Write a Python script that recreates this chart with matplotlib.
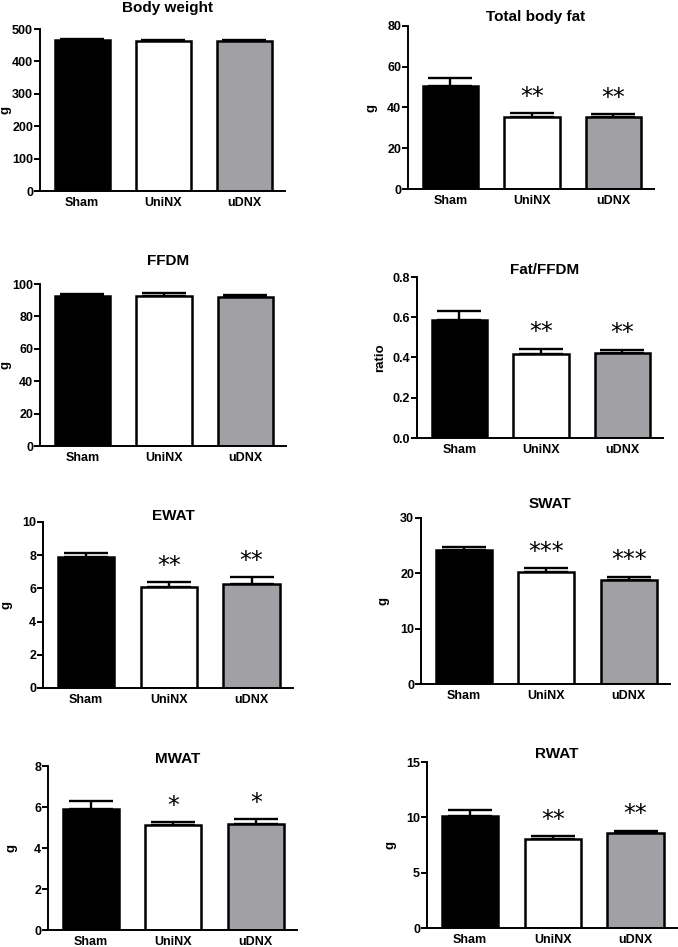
import matplotlib
matplotlib.use("Agg")
import matplotlib.pyplot as plt
import numpy as np

plt.rcParams['font.family'] = ['Liberation Sans', 'DejaVu Sans']
plt.rcParams['font.weight'] = 'bold'

groups = ['Sham', 'UniNX', 'uDNX']
bar_colors = ['black', 'white', '#a1a1a5']

titles = ['Body weight', 'Total body fat', 'FFDM', 'Fat/FFDM',
          'EWAT', 'SWAT', 'MWAT', 'RWAT']
ylabels = ['g', 'g', 'g', 'ratio', 'g', 'g', 'g', 'g']

# means and SEM (upper)
means = [
    [465, 462, 462],
    [50.6, 35.2, 35.4],
    [92.8, 92.8, 91.8],
    [0.584, 0.416, 0.422],
    [7.87, 6.08, 6.29],
    [24.3, 20.3, 18.8],
    [5.89, 5.11, 5.18],
    [10.15, 8.04, 8.61],
]
sems = [
    [4, 4, 4],
    [3.7, 2.2, 1.3],
    [1.2, 1.6, 1.4],
    [0.048, 0.028, 0.017],
    [0.26, 0.31, 0.40],
    [0.5, 0.6, 0.6],
    [0.42, 0.17, 0.23],
    [0.51, 0.30, 0.19],
]
stars = [
    ['', '', ''],
    ['', '**', '**'],
    ['', '', ''],
    ['', '**', '**'],
    ['', '**', '**'],
    ['', '***', '***'],
    ['', '*', '*'],
    ['', '**', '**'],
]
yticks = [
    [0, 100, 200, 300, 400, 500],
    [0, 20, 40, 60, 80],
    [0, 20, 40, 60, 80, 100],
    [0.0, 0.2, 0.4, 0.6, 0.8],
    [0, 2, 4, 6, 8, 10],
    [0, 10, 20, 30],
    [0, 2, 4, 6, 8],
    [0, 5, 10, 15],
]
ytick_fmt = ['{:.0f}'] * 3 + ['{:.1f}'] + ['{:.0f}'] * 4

# panel layout in pixels: left, top, width, bottom, title y
W, H = 678, 947
layout = [
    (40, 29, 245, 191, 8),
    (408, 26, 246, 189, 17),
    (40, 284, 246, 446, 261),
    (417, 277, 246, 438, 270),
    (43, 522, 250, 688, 516),
    (421, 518, 249, 684, 504),
    (48, 766, 249, 930, 759),
    (427, 762, 250, 928, 754),
]

fig = plt.figure(figsize=(W / 100, H / 100), dpi=100)

for i in range(8):
    left, top, width, bottom, ty = layout[i]
    ax = fig.add_axes([left / W, 1 - bottom / H, width / W, (bottom - top) / H])
    x = np.arange(3)
    ax.errorbar(x, means[i], yerr=[np.zeros(3), sems[i]], fmt='none',
                ecolor='black', elinewidth=1.7, capsize=16, capthick=1.7, zorder=1)
    ax.bar(x, means[i], width=0.68, color=bar_colors, edgecolor='black',
           linewidth=1.8, zorder=2)
    for j in range(3):
        if stars[i][j]:
            ax.annotate(stars[i][j], (x[j], means[i][j] + sems[i][j]),
                        xytext=(0, 3), textcoords='offset points',
                        ha='center', va='bottom', fontsize=17,
                        fontweight='normal', family='DejaVu Sans')
    ax.set_xlim(-0.52, 2.5)
    ax.set_ylim(0, yticks[i][-1])
    ax.set_yticks(yticks[i])
    ax.set_yticklabels([ytick_fmt[i].format(v) for v in yticks[i]])
    ax.set_xticks(x)
    ax.set_xticklabels(groups)
    ax.tick_params(axis='x', length=0, pad=4, labelsize=9)
    ax.tick_params(axis='y', length=4, width=1.4, pad=1, labelsize=9)
    for s in ['top', 'right']:
        ax.spines[s].set_visible(False)
    for s in ['left', 'bottom']:
        ax.spines[s].set_linewidth(1.4)
    ax.set_ylabel(ylabels[i], fontsize=9.5, fontweight='bold')
    ax.yaxis.set_label_coords(-min(31, left - 12) / width, 0.5)
    fig.text((left + 0.52 * width) / W, 1 - ty / H, titles[i], ha='center',
             va='center', fontsize=11, fontweight='bold')

fig.savefig('out.png', dpi=100)
